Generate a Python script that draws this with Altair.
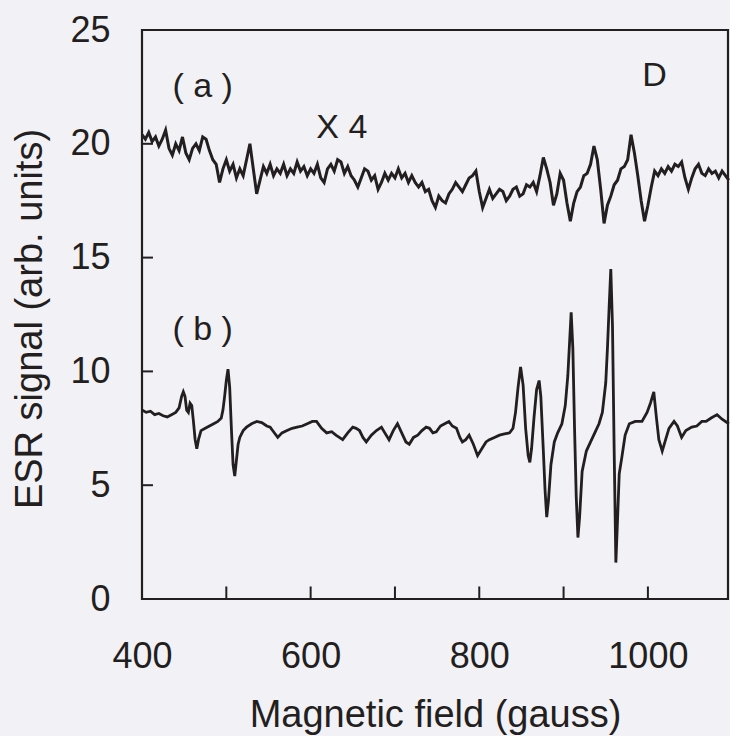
import altair as alt
import pandas as pd

# ---- trace (a): X 4 spectrum (upper) ----
field_a = [400, 404, 408, 412, 416, 420, 424, 428, 432, 436,
           440, 444, 448, 452, 456, 460, 464, 468, 472, 476,
           480, 484, 488, 492, 496, 500, 504, 508, 512, 516,
           520, 524, 528, 532, 536, 540, 544, 548, 552, 556,
           560, 564, 568, 572, 576, 580, 584, 588, 592, 596,
           600, 604, 608, 612, 616, 620, 624, 628, 632, 636,
           640, 644, 648, 652, 656, 660, 664, 668, 672, 676,
           680, 684, 688, 692, 696, 700, 704, 708, 712, 716,
           720, 724, 728, 732, 736, 740, 744, 748, 752, 756,
           760, 764, 768, 772, 776, 780, 784, 788, 792, 796,
           800, 804, 808, 812, 816, 820, 824, 828, 832, 836,
           840, 844, 848, 852, 856, 860, 864, 868, 872, 876,
           880, 884, 888, 892, 896, 900, 904, 908, 912, 916,
           920, 924, 928, 932, 936, 940, 944, 948, 952, 956,
           960, 964, 968, 972, 976, 980, 984, 988, 992, 996,
           1000, 1004, 1008, 1012, 1016, 1020, 1024, 1028, 1032, 1036,
           1040, 1044, 1048, 1052, 1056, 1060, 1064, 1068, 1072, 1076,
           1080, 1084, 1088, 1092, 1096]
signal_a = [20.4, 20.2, 20.5, 20.1, 20.3, 19.9, 20.2, 20.6, 19.8, 19.5,
            20.0, 19.7, 20.3, 19.6, 19.3, 19.8, 20.0, 19.7, 20.3, 20.2,
            19.7, 19.3, 19.1, 18.3, 18.9, 19.3, 18.8, 19.1, 18.5, 18.9,
            18.6, 19.3, 20.0, 18.9, 17.8, 18.4, 19.0, 18.7, 19.1, 18.6,
            18.9, 18.7, 19.1, 18.6, 18.9, 18.7, 19.2, 18.8, 19.0, 18.6,
            18.9, 18.7, 19.1, 18.5, 18.3, 18.9, 19.1, 18.8, 19.3, 19.2,
            18.7, 19.0, 18.6, 18.4, 18.1, 18.5, 18.9, 18.8, 18.4, 18.6,
            18.0, 18.3, 18.7, 18.4, 18.7, 18.5, 18.9, 18.5, 18.7, 18.3,
            18.6, 18.3, 18.1, 18.3, 17.9, 18.0, 17.5, 17.2, 17.7, 17.5,
            17.4, 17.8, 18.0, 18.3, 18.1, 17.9, 18.2, 18.5, 18.6, 18.8,
            17.9, 17.2, 17.6, 18.0, 17.6, 17.8, 18.0, 17.9, 17.5, 17.7,
            18.0, 18.1, 17.7, 17.8, 18.2, 18.1, 18.3, 17.9, 18.6, 19.4,
            18.9, 18.3, 17.3, 17.8, 18.7, 18.4, 17.4, 16.6, 17.4, 17.9,
            18.1, 18.6, 18.7, 19.1, 19.9, 19.3, 18.0, 16.5, 17.3, 17.7,
            18.2, 18.4, 18.9, 19.0, 19.3, 20.4, 19.6, 18.6, 17.5, 16.6,
            17.3, 18.1, 18.8, 18.6, 18.9, 18.7, 19.0, 18.8, 19.1, 19.0,
            19.2, 18.5, 18.0, 18.5, 18.9, 19.1, 18.7, 18.6, 18.9, 18.7,
            18.8, 18.5, 18.8, 18.6, 18.4]

# ---- trace (b): lower spectrum ----
field_b = [400, 405, 410, 415, 420, 425, 430, 435, 440, 444,
           447, 449, 451, 453, 455, 457, 459, 461, 463, 465,
           467, 470, 475, 480, 485, 490, 494, 496, 498, 500,
           502, 504, 506, 508, 510, 512, 514, 516, 520, 524,
           530, 536, 542, 548, 552, 556, 561, 566, 572, 578,
           584, 590, 596, 602, 607, 613, 619, 625, 630, 634,
           638, 644, 650, 654, 658, 662, 666, 672, 678, 684,
           688, 693, 698, 703, 708, 713, 717, 722, 727, 732,
           737, 741, 745, 749, 754, 759, 764, 768, 773, 777,
           780, 784, 788, 793, 798, 803, 808, 812, 818, 824,
           830, 836, 840, 843, 846, 849, 852, 855, 858, 860,
           862, 865, 868, 871, 873, 876, 878, 880, 882, 885,
           889, 893, 898, 902, 905, 907, 909, 911, 913, 915,
           917, 919, 922, 927, 932, 937, 942, 946, 950, 952,
           954, 956, 958, 960, 962, 964, 966, 969, 973, 978,
           985, 993, 999, 1003, 1007, 1010, 1013, 1017, 1021, 1025,
           1031, 1035, 1040, 1045, 1052, 1058, 1064, 1069, 1075, 1082,
           1088, 1096]
signal_b = [8.3, 8.2, 8.25, 8.1, 8.15, 8.05, 8.0, 8.1, 8.2, 8.4,
            8.9, 9.1, 8.9, 8.3, 8.2, 8.6, 8.5, 7.8, 7.0, 6.6,
            7.0, 7.4, 7.5, 7.6, 7.7, 7.8, 7.95, 8.3, 8.9, 9.6,
            10.1, 9.3, 7.5, 5.9, 5.4, 6.1, 6.8, 7.1, 7.4, 7.55,
            7.7, 7.8, 7.75, 7.6, 7.55, 7.35, 7.1, 7.3, 7.4, 7.5,
            7.55, 7.6, 7.7, 7.8, 7.8, 7.5, 7.3, 7.35, 7.2, 7.1,
            7.0, 7.3, 7.55, 7.5, 7.4, 7.1, 6.9, 7.2, 7.4, 7.55,
            7.3, 7.0, 7.4, 7.7, 7.3, 6.9, 6.8, 7.1, 7.2, 7.4,
            7.55, 7.5, 7.3, 7.35, 7.6, 7.7, 7.8, 7.6, 7.5, 7.1,
            6.9, 7.0, 7.2, 6.8, 6.3, 6.6, 6.9, 7.0, 7.1, 7.2,
            7.25, 7.3, 7.5, 8.2, 9.3, 10.2, 9.4, 7.5, 6.3, 6.0,
            6.6, 8.0, 9.2, 9.6, 8.9, 6.5, 4.8, 3.6, 4.3, 5.9,
            6.9, 7.3, 7.7, 8.5, 9.8, 11.2, 12.6, 11.0, 7.5, 4.5,
            2.7, 3.6, 5.6, 6.5, 6.9, 7.3, 7.7, 8.2, 9.5, 11.0,
            12.8, 14.5, 12.0, 6.5, 1.6, 3.5, 5.5, 6.2, 7.2, 7.7,
            7.8, 7.8, 8.2, 8.6, 9.1, 8.0, 7.0, 6.5, 7.0, 7.5,
            7.8, 7.6, 7.1, 7.4, 7.55, 7.6, 7.8, 7.8, 7.95, 8.1,
            7.9, 7.7]

# ---- axes ----
x_label_values = [400, 600, 800, 1000]
x_tick_values = [500, 600, 700, 800, 900, 1000]
y_label_values = [0, 5, 10, 15, 20, 25]
y_tick_values = [5, 10, 15, 20]

# ---- annotations ----
note_text = ["( a )", "X 4", "D", "( b )"]
note_x = [472, 637, 1008, 472]
note_y = [22.5, 20.7, 23.0, 11.8]

FONT = "Liberation Sans"
INK = "#231f20"
W, H = 586, 569

df_a = pd.DataFrame({"field": field_a, "signal": signal_a})
df_b = pd.DataFrame({"field": field_b, "signal": signal_b})
df_xt = pd.DataFrame({"field": x_tick_values})
df_yt = pd.DataFrame({"signal": y_tick_values})
df_note = pd.DataFrame({"field": note_x, "signal": note_y, "t": note_text})

xs = alt.Scale(domain=[400, 1095], nice=False, zero=False)
ys = alt.Scale(domain=[0, 25], nice=False, zero=False)

x_axis = alt.Axis(values=x_label_values, format="d", title="Magnetic field (gauss)", ticks=False,
                  domain=False, grid=False, labelFlush=False, labelOverlap=False,
                  labelFontSize=36, labelFont=FONT, labelColor=INK, labelPadding=40,
                  titleFontSize=38, titleFont=FONT, titleFontWeight="normal", titleColor=INK,
                  titleX=W / 2, titleY=127, titleAlign="center", titleBaseline="alphabetic")
y_axis = alt.Axis(values=y_label_values, format="d", title="ESR signal (arb. units)", ticks=False,
                  domain=False, grid=False, labelFlush=False, labelOverlap=False,
                  labelFontSize=36, labelFont=FONT, labelColor=INK, labelPadding=32,
                  titleFontSize=38, titleFont=FONT, titleFontWeight="normal", titleColor=INK,
                  titleX=-112, titleY=H / 2 + 4, titleAngle=-90, titleAlign="center",
                  titleBaseline="middle")

X = alt.X("field:Q", scale=xs, axis=x_axis)
Y = alt.Y("signal:Q", scale=ys, axis=y_axis)

line_a = alt.Chart(df_a).mark_line(color=INK, strokeWidth=3).encode(x=X, y=Y)
line_b = alt.Chart(df_b).mark_line(color=INK, strokeWidth=2.8).encode(x=X, y=Y)
xticks = alt.Chart(df_xt).mark_rule(color=INK, strokeWidth=2).encode(
    x=X, y=alt.datum(0), y2=alt.datum(0.55))
yticks = alt.Chart(df_yt).mark_rule(color=INK, strokeWidth=2).encode(
    y=Y, x=alt.datum(400), x2=alt.datum(413))
notes = alt.Chart(df_note).mark_text(font=FONT, fontSize=34, color=INK,
                                     align="center", baseline="middle").encode(
    x=X, y=Y, text="t:N")

chart = alt.layer(line_a, line_b, xticks, yticks, notes).properties(
    width=W, height=H,
    autosize=alt.AutoSizeParams(type="none"),
    padding={"left": 142, "top": 30, "right": 2, "bottom": 137},
    background="#f2f1f5",
).configure_view(stroke=INK, strokeWidth=2.2)

chart.save("out.html", embed_options={"renderer": "svg", "actions": False})
